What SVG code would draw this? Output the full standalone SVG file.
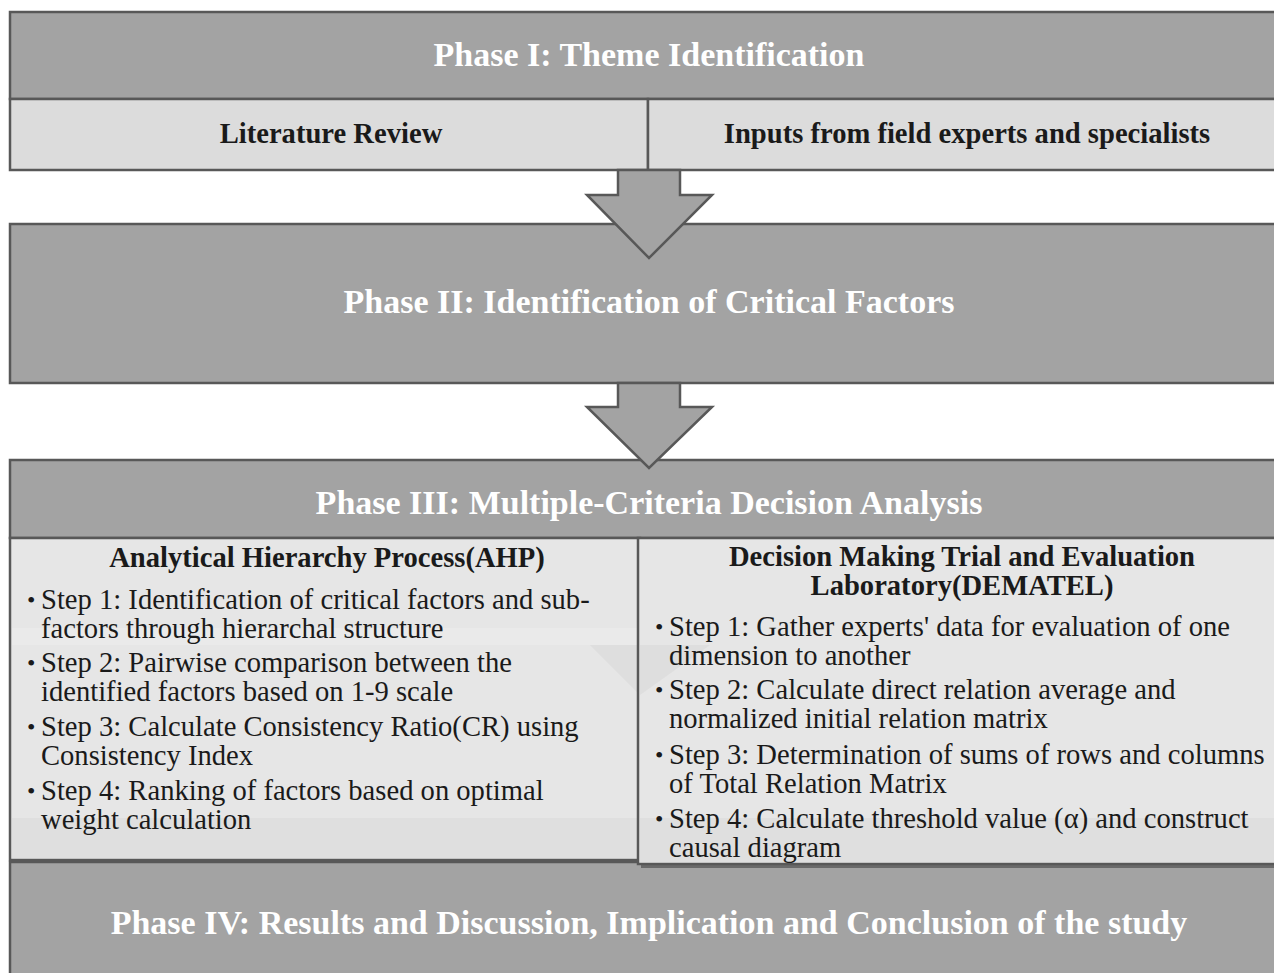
<svg xmlns="http://www.w3.org/2000/svg" width="1274" height="973" viewBox="0 0 1274 973">
<style>
.dark{fill:#a3a3a3;stroke:#585858;stroke-width:2.5}
.light{fill:#dcdcdc;stroke:#585858;stroke-width:2.5}
.pane{fill:#e6e6e6;stroke:#585858;stroke-width:2.5}
.arrow{fill:#a3a3a3;stroke:#585858;stroke-width:2.5;stroke-linejoin:miter}
.ttl{font-family:"Liberation Serif",serif;font-weight:bold;font-size:34px;fill:#ffffff;text-anchor:middle}
.sub{font-family:"Liberation Serif",serif;font-weight:bold;font-size:28.6px;fill:#1a1a1a;text-anchor:middle}
.body{font-family:"Liberation Serif",serif;font-size:28.6px;fill:#1a1a1a}
.bul{font-family:"Liberation Serif",serif;font-size:24px;fill:#1a1a1a}
</style>
<rect width="1274" height="973" fill="#ffffff"/>
<g id="phase1">
<rect class="dark" x="10" y="12" width="1280" height="87"/>
<text class="ttl" x="649" y="66">Phase I: Theme Identification</text>
</g>
<g id="literature-review">
<rect class="light" x="10" y="99" width="638" height="71"/>
<text class="sub" x="331" y="143">Literature Review</text>
</g>
<g id="expert-inputs">
<rect class="light" x="648" y="99" width="640" height="71"/>
<text class="sub" x="967" y="143">Inputs from field experts and specialists</text>
</g>
<g id="phase2">
<rect class="dark" x="10" y="224" width="1280" height="159"/>
<text class="ttl" x="649" y="313">Phase II: Identification of Critical Factors</text>
</g>
<g id="phase4">
<rect class="dark" x="10" y="862" width="1280" height="120"/>
<text class="ttl" x="649" y="934">Phase IV: Results and Discussion, Implication and Conclusion of the study</text>
</g>
<g id="phase3">
<rect class="dark" x="10" y="460" width="1280" height="78"/>
<text class="ttl" x="649" y="514">Phase III: Multiple-Criteria Decision Analysis</text>
</g>
<g id="ahp">
<rect class="pane" x="10" y="538" width="630" height="322"/>
<polygon points="12,628 638,628 638,645 12,645" fill="#ededed" opacity="0.5"/>
<polygon points="590,645 640,695 640,645" fill="#d9d9d9" opacity="0.6"/>
<rect x="12" y="818" width="626" height="40" fill="#dadada" opacity="0.6"/>
<text class="sub" x="327" y="567">Analytical Hierarchy Process(AHP)</text>
<text class="bul" x="27" y="608">•</text>
<text class="body" x="41" y="609">Step 1: Identification of critical factors and sub-</text>
<text class="body" x="41" y="638">factors through hierarchal structure</text>
<text class="bul" x="27" y="671">•</text>
<text class="body" x="41" y="672">Step 2: Pairwise comparison between the</text>
<text class="body" x="41" y="701">identified factors based on 1-9 scale</text>
<text class="bul" x="27" y="735">•</text>
<text class="body" x="41" y="736">Step 3: Calculate Consistency Ratio(CR) using</text>
<text class="body" x="41" y="765">Consistency Index</text>
<text class="bul" x="27" y="799">•</text>
<text class="body" x="41" y="800">Step 4: Ranking of factors based on optimal</text>
<text class="body" x="41" y="829">weight calculation</text>
</g>
<g id="dematel">
<rect x="641" y="541" width="640" height="327" fill="#6a6a6a"/>
<rect class="pane" x="638" y="538" width="640" height="326"/>
<polygon points="640,645 640,695 710,645" fill="#d9d9d9" opacity="0.6"/>
<rect x="640" y="818" width="636" height="44" fill="#dadada" opacity="0.6"/>
<text class="sub" x="962" y="566">Decision Making Trial and Evaluation</text>
<text class="sub" x="962" y="595">Laboratory(DEMATEL)</text>
<text class="bul" x="655" y="635">•</text>
<text class="body" x="669" y="636">Step 1: Gather experts' data for evaluation of one</text>
<text class="body" x="669" y="665">dimension to another</text>
<text class="bul" x="655" y="698">•</text>
<text class="body" x="669" y="699">Step 2: Calculate direct relation average and</text>
<text class="body" x="669" y="728">normalized initial relation matrix</text>
<text class="bul" x="655" y="763">•</text>
<text class="body" x="669" y="764">Step 3: Determination of sums of rows and columns</text>
<text class="body" x="669" y="793">of Total Relation Matrix</text>
<text class="bul" x="655" y="827">•</text>
<text class="body" x="669" y="828">Step 4: Calculate threshold value (α) and construct</text>
<text class="body" x="669" y="857">causal diagram</text>
</g>
<g id="connectors">
<polygon class="arrow" points="618,170 680,170 680,195 712,195 649,258 587,195 618,195"/>
<polygon class="arrow" points="618,383 680,383 680,407 712,407 649,468 587,407 618,407"/>
</g>
</svg>
